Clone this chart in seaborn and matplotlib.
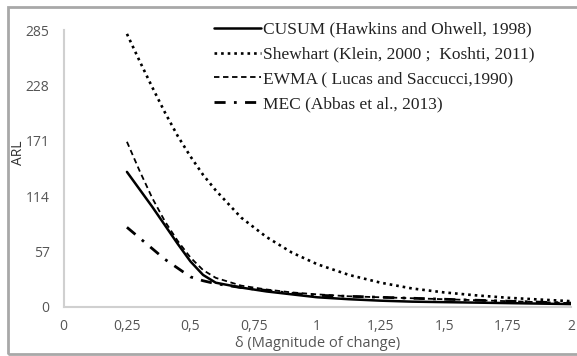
import matplotlib
matplotlib.use("Agg")
import matplotlib.pyplot as plt
import seaborn as sns
import pandas as pd
from matplotlib.patches import Rectangle

delta = [0.25, 0.3, 0.35, 0.4, 0.45, 0.5, 0.55, 0.6, 0.7, 0.8, 0.9, 1.0,
         1.125, 1.25, 1.375, 1.5, 1.625, 1.75, 1.875, 2.0]
cusum = [139, 121, 103, 84, 65, 47, 33, 25, 20, 16, 13, 10,
         8, 6.5, 5.5, 5, 4.5, 4, 3.5, 3]
shewhart = [281, 253, 226, 200, 176, 155, 136, 120, 92, 72, 56, 44,
            33, 25, 19, 15, 12, 9.5, 7.7, 6]
ewma = [170, 140, 112, 88, 68, 51, 38, 30, 22, 18, 15, 13,
        11, 10, 9, 8, 7, 6, 5, 4]
mec = [82, 71, 60, 49, 40, 31, 27, 24, 20, 17, 14, 12,
       11, 10, 9, 8, 7, 6, 5, 4]

labels = ["CUSUM (Hawkins and Ohwell, 1998)",
          "Shewhart (Klein, 2000 ;  Koshti, 2011)",
          "EWMA ( Lucas and Saccucci,1990)",
          "MEC (Abbas et al., 2013)"]
xticks = [0, 0.25, 0.5, 0.75, 1, 1.25, 1.5, 1.75, 2]
xticklabels = ["0", "0,25", "0,5", "0,75", "1", "1,25", "1,5", "1,75", "2"]
yticks = [0, 57, 114, 171, 228, 285]

sns.set_theme(style="white")
plt.rcParams['font.family'] = ['Open Sans', 'DejaVu Sans']

df = pd.DataFrame({"delta": delta * 4,
                   "ARL": cusum + shewhart + ewma + mec,
                   "series": sum([[l] * len(delta) for l in labels], [])})

fig = plt.figure(figsize=(5.77, 3.56), dpi=100)
ax = fig.add_axes([63.5 / 577, 49 / 356, (571 - 63.5) / 577, (307 - 30) / 356])

styles = {labels[0]: dict(ls="-", lw=1.8),
          labels[1]: dict(ls=(0, (1, 1.5)), lw=1.9),
          labels[2]: dict(ls=(0, (3, 2)), lw=1.3),
          labels[3]: dict(ls=(0, (4, 3, 1, 3)), lw=2.0)}
for l in labels:
    sub = df[df.series == l]
    sns.lineplot(data=sub, x="delta", y="ARL", ax=ax, color="black",
                 label=l, **styles[l])

ax.set_xlim(0, 2)
ax.set_ylim(0, 285)
ax.set_xticks(xticks)
ax.set_xticklabels(xticklabels)
ax.set_yticks(yticks)
for s in ["top", "right"]:
    ax.spines[s].set_visible(False)
for s in ["left", "bottom"]:
    ax.spines[s].set_color("#d0d0d0")
    ax.spines[s].set_linewidth(1.5)
ax.tick_params(axis="both", which="both", length=4, width=1, color="#d0d0d0",
               labelsize=10, labelcolor="#555555", pad=6)
ax.tick_params(axis="x", pad=5)
ax.set_xlabel("δ (Magnitude of change)", fontsize=10.5, color="#555555", labelpad=1)
ax.set_ylabel("")
fig.text(18 / 577, 1 - 153 / 356, "ARL", rotation=90, ha="center", va="center",
         fontsize=10, color="#333333")

leg = ax.legend(loc="upper left", bbox_to_anchor=(0.296, 1.03), frameon=False,
                prop={"family": "Liberation Serif", "size": 12.5},
                handlelength=2.7, handletextpad=0.15, labelspacing=0.5,
                borderpad=0, borderaxespad=0)
for t in leg.get_texts():
    t.set_color("#222222")

fig.patches.append(Rectangle((8 / 577, 1 - 354 / 356), 1, (354 - 7) / 356,
                             transform=fig.transFigure, fill=False,
                             edgecolor="#a8a8a8", linewidth=2))
fig.savefig("out.png", dpi=100)
